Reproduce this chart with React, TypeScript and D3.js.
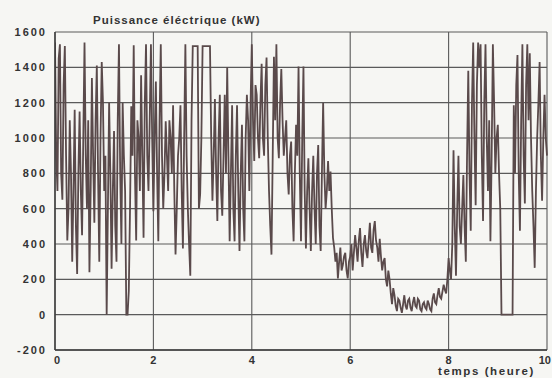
import React from "react";
import * as d3 from "d3";

const STEP = 0.025; // hours between samples
const power: number[] = [
  // hour 0
  1540, 900, 700, 1450, 1530, 800, 650, 1300, 1520, 900,
  420, 600, 1100, 800, 300, 700, 1160, 500, 230, 800,
  1150, 700, 450, 1000, 1540, 900, 600, 1100, 240, 700,
  1340, 900, 520, 1100, 1410, 800, 300, 1000, 1430, 1200,
  // hour 1
  700, 900, 0, 600, 1200, 800, 260, 700, 1040, 500,
  300, 1100, 1530, 800, 400, 1200, 900, 700, 0, 0,
  135, 600, 1180, 900, 1525, 800, 420, 1100, 1000, 700,
  1355, 900, 435, 1200, 1530, 900, 700, 1100, 1530, 1000,
  // hour 2
  585, 1000, 1320, 800, 415, 1100, 1530, 900, 600, 800,
  1095, 900, 700, 1100, 1000, 800, 1185, 700, 340, 600,
  900, 1000, 1185, 700, 375, 1000, 1530, 900, 600, 400,
  220, 1100, 1520, 1520, 1520, 1520, 1520, 600, 680, 1000,
  // hour 3
  1520, 1520, 1520, 1520, 1520, 1520, 1520, 1000, 645, 900,
  1220, 800, 530, 1000, 1245, 700, 560, 900, 1245, 800,
  1400, 900, 415, 800, 1185, 600, 415, 900, 1185, 700,
  360, 800, 1075, 600, 415, 1000, 1245, 1100, 700, 1200,
  // hour 4
  1530, 1100, 870, 1300, 1245, 1000, 885, 1200, 1420, 1000,
  900, 1300, 1455, 1000, 700, 500, 340, 900, 1460, 1100,
  1530, 1000, 885, 1200, 1390, 1100, 900, 1000, 1100, 800,
  680, 900, 980, 600, 415, 800, 1075, 900, 1405, 800,
  // hour 5
  415, 1000, 1405, 700, 375, 700, 885, 600, 360, 700,
  900, 600, 400, 800, 960, 500, 360, 800, 1200, 800,
  600, 700, 870, 700, 810, 600, 435, 380, 300, 350,
  205, 300, 380, 250, 280, 330, 350, 250, 205, 300,
  // hour 6
  330, 400, 250, 350, 450, 380, 300, 420, 490, 350,
  270, 400, 450, 360, 320, 420, 520, 380, 350, 480,
  530, 420, 380, 300, 430, 330, 250, 300, 320, 200,
  160, 250, 200, 120, 60, 150, 110, 50, 20, 90,
  // hour 7
  80, 40, 10, 60, 110, 50, 30, 80, 90, 40,
  20, 70, 100, 50, 40, 90, 80, 30, 20, 60,
  70, 40, 30, 80, 60, 30, 20, 90, 120, 70,
  60, 110, 150, 100, 90, 130, 170, 140, 120, 200,
  // hour 8
  320, 250, 200, 400, 930, 500, 220, 600, 900, 500,
  400, 600, 790, 500, 300, 900, 1380, 800, 475, 1200,
  1540, 1000, 620, 1300, 1540, 1400, 1530, 900, 530, 1200,
  1530, 1000, 700, 1100, 415, 900, 1530, 1200, 800, 1000,
  // hour 9 and 10.0
  1075, 800, 600, 0, 0, 0, 0, 0, 0, 0,
  0, 0, 0, 1185, 800, 1300, 1470, 800, 475, 1100,
  1530, 900, 630, 1300, 1530, 1100, 1480, 1000, 700, 500,
  265, 700, 1000, 1200, 1430, 900, 645, 1000, 1245, 1000,
  900,
];

const yTicks = [-200, 0, 200, 400, 600, 800, 1000, 1200, 1400, 1600];
const xTicks = [0, 2, 4, 6, 8, 10];
const title = "Puissance éléctrique (kW)";
const xTitle = "temps (heure)";

export default function App() {
  const W = 552, H = 378;
  const left = 55, right = 547, top = 32, bottom = 350;
  const x = d3.scaleLinear().domain([0, 10]).range([left, right]);
  const y = d3.scaleLinear().domain([-200, 1600]).range([bottom, top]);
  const data = power.map((v, i) => [i * STEP, v] as [number, number]);
  const line = d3.line<[number, number]>().x(d => x(d[0])).y(d => y(d[1]));
  const font = "Arial, 'Liberation Sans', sans-serif";
  return (
    <div style={{ position: "absolute", left: 0, top: 0 }}>
      <svg width={W} height={H} style={{ display: "block", background: "#f6f6f3" }}>
        <defs>
          <clipPath id="plot">
            <rect x={left} y={top - 2} width={right - left + 5} height={bottom - top + 2} />
          </clipPath>
        </defs>
        {yTicks.map(t => (
          <line key={"gy" + t} x1={left} x2={right} y1={y(t)} y2={y(t)} stroke="#5a5a5a" strokeWidth={1.1} />
        ))}
        {xTicks.map(t => (
          <line key={"gx" + t} x1={x(t)} x2={x(t)} y1={top} y2={bottom} stroke="#5a5a5a" strokeWidth={1.1} />
        ))}
        <path d={line(data) || ""} fill="none" stroke="#5a4a4b" strokeWidth={1.8} strokeLinejoin="miter" clipPath="url(#plot)" />
        <line x1={left} x2={left} y1={top} y2={bottom} stroke="#3a3a3a" strokeWidth={1.4} />
        <line x1={left} x2={right} y1={bottom} y2={bottom} stroke="#3a3a3a" strokeWidth={1.4} />
        {yTicks.map(t => (
          <text key={"ty" + t} x={47} y={y(t) + 4} textAnchor="end" fontFamily={font} fontWeight="bold" fontSize={11} letterSpacing={2} fill="#333">{t}</text>
        ))}
        {xTicks.map(t => (
          <text key={"tx" + t} x={t === 10 ? 551 : x(t) + (t === 0 ? 3 : 1)} y={364} textAnchor={t === 10 ? "end" : "middle"} fontFamily={font} fontWeight="bold" fontSize={11} letterSpacing={t === 10 ? 0 : 2} fill="#333">{t}</text>
        ))}
        <text x={93} y={24} fontFamily={font} fontWeight="bold" fontSize={11.5} letterSpacing={1} fill="#333">{title}</text>
        <text x={438} y={375} fontFamily={font} fontWeight="bold" fontSize={11.5} letterSpacing={1.6} fill="#333">{xTitle}</text>
      </svg>
    </div>
  );
}
